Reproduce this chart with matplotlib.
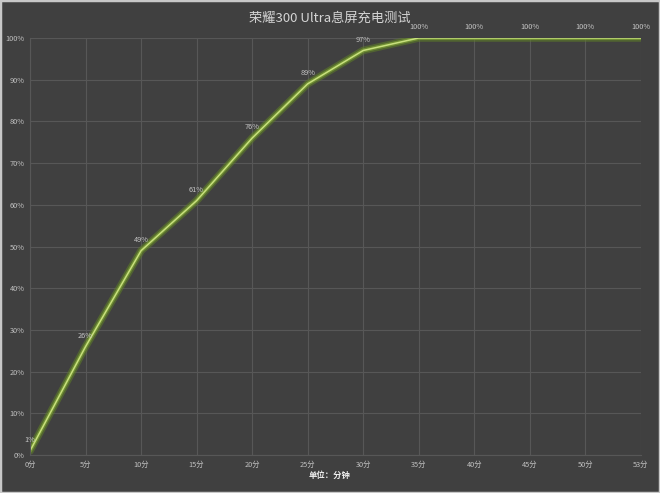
import matplotlib
matplotlib.use("Agg")
import matplotlib.pyplot as plt

plt.rcParams['font.family'] = ['Noto Sans CJK SC', 'DejaVu Sans']

categories = ['0分', '5分', '10分', '15分', '20分', '25分', '30分', '35分', '40分', '45分', '50分', '53分']
values = [1, 26, 49, 61, 76, 89, 97, 100, 100, 100, 100, 100]
yticks = [0, 10, 20, 30, 40, 50, 60, 70, 80, 90, 100]
title = '荣耀300 Ultra息屏充电测试'
xlabel = '单位：分钟'

bg = '#404040'
fig = plt.figure(figsize=(6.6, 4.93), dpi=100, facecolor=bg)
ax = fig.add_axes([0.0455, 0.077, 0.9255, 0.846])
ax.set_facecolor(bg)

x = list(range(len(categories)))
ax.plot(x, values, color='#5f7f26', lw=5.5, alpha=0.55, solid_joinstyle='round', solid_capstyle='round')
ax.plot(x, values, color='#7ea334', lw=3.0, alpha=0.7, solid_joinstyle='round', solid_capstyle='round')
ax.plot(x, values, color='#c8e07e', lw=1.1, solid_joinstyle='round')

for xi, v in zip(x, values):
    ax.annotate(f'{v}%', (xi, v), xytext=(0, 5), textcoords='offset points',
                ha='center', va='bottom', fontsize=5.3, color='#c4c4c4')

ax.set_xlim(0, len(categories) - 1)
ax.set_ylim(0, 100)
ax.set_xticks(x)
ax.set_xticklabels(categories)
ax.set_yticks(yticks)
ax.set_yticklabels([f'{t}%' for t in yticks])
ax.tick_params(axis='both', length=0, labelsize=5.3, colors='#c0c0c0', pad=4)
ax.grid(True, color='#575757', lw=0.8)
for s in ax.spines.values():
    s.set_visible(False)
ax.spines['left'].set_visible(True)
ax.spines['left'].set_color('#575757')
ax.spines['bottom'].set_visible(True)
ax.spines['bottom'].set_color('#575757')

fig.text(0.5, 0.963, title, ha='center', va='center', fontsize=9.5, color='#d4d4d4')
fig.text(0.5, 0.036, xlabel, ha='center', va='center', fontsize=6, color='#f0f0f0', fontweight='bold')

fig.patches.append(plt.Rectangle((0, 0), 1, 1, transform=fig.transFigure, fill=False,
                                 edgecolor='#c8c8c8', lw=2.5, zorder=10))

fig.savefig('out.png', dpi=100, facecolor=bg)
